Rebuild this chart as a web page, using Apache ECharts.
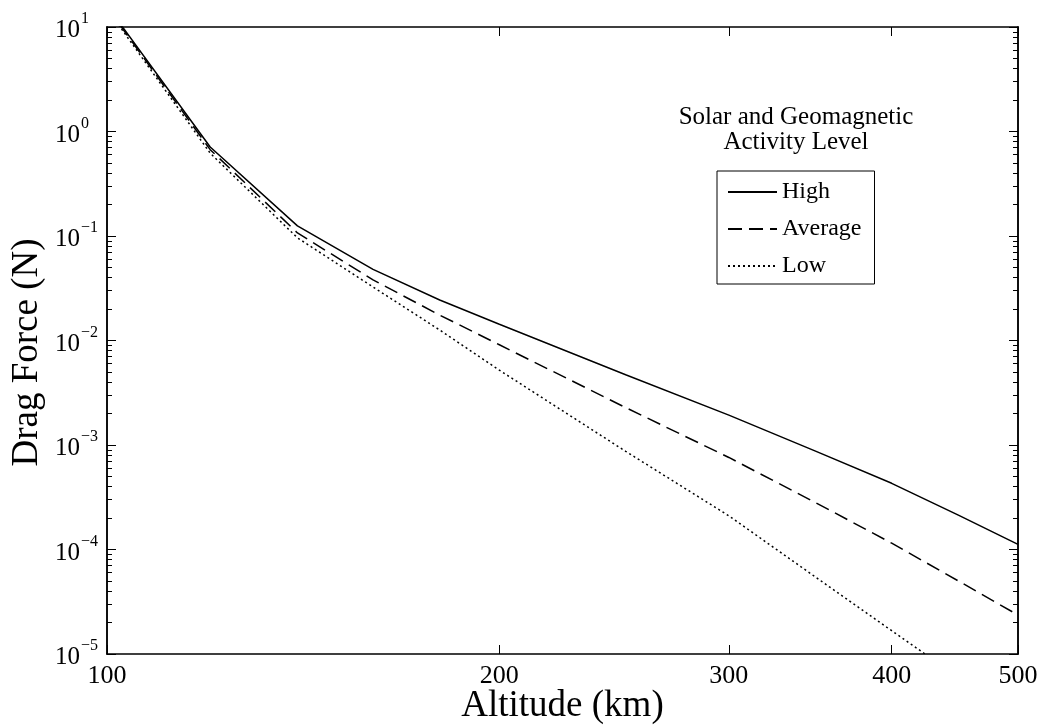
<!DOCTYPE html>
<html>
<head>
<meta charset="utf-8">
<script src="https://cdn.jsdelivr.net/npm/echarts@6/dist/echarts.min.js"></script>
<style>
    html, body {margin: 0; padding: 0; background: #fff;}
    #chart {width: 1044px; height: 725px;}
</style>
</head>
<body>
<div id="chart"></div>
<script>
// altitude (km) of each sample
const altitudes = [100, 120, 140, 160, 180, 200, 250, 300, 350, 400, 450, 500];
// drag force (N) for each activity level
const highForce = [16, 0.71, 0.125, 0.048, 0.0244, 0.0143, 0.0047, 0.00193, 0.00087, 0.00043, 0.000213, 0.000112];
const averageForce = [15.5, 0.67, 0.107, 0.038, 0.0175, 0.0091, 0.00228, 0.00076, 0.000279, 0.000115, 0.00005, 0.0000236];
const lowForce = [15, 0.62, 0.096, 0.0325, 0.0126, 0.0052, 0.00087, 0.00021, 0.000054, 0.0000167, 0.000006, 0.00000235];
const seriesNames = ['High', 'Average', 'Low'];
const xTicks = [100, 200, 300, 400, 500];
const yTicks = [1e-5, 1e-4, 1e-3, 1e-2, 1e-1, 1, 10];

const font = 'Liberation Serif';
const lineTypes = ['solid', [14, 7], [2, 3]];

// minor ticks 2..9 inside every decade
let yMinor = [];
for (let i = 0; i < yTicks.length - 1; i++) {
    for (let k = 2; k < 10; k++) yMinor.push(+(yTicks[i] * k).toPrecision(3));
}

function xAxisOf(position, showLabel) {
    return {
        type: 'log', logBase: 10, position: position, min: 100, max: 500,
        name: showLabel ? 'Altitude (km)' : '',
        nameLocation: 'middle', nameGap: 34, nameMoveOverlap: false,
        nameTextStyle: {fontFamily: font, fontSize: 37, color: '#000'},
        axisLine: {show: true, lineStyle: {color: '#000', width: 1.5}},
        axisTick: {show: true, inside: true, length: 9, customValues: xTicks, lineStyle: {color: '#000', width: 1}},
        axisLabel: {
            show: showLabel, customValues: xTicks, margin: 9,
            fontFamily: font, fontSize: 26, color: '#000',
            formatter: v => String(Math.round(v))
        },
        splitLine: {show: false}
    };
}

function yAxisOf(position, values, len, showLabel) {
    return {
        type: 'log', logBase: 10, position: position, min: 1e-5, max: 10,
        name: showLabel ? 'Drag Force (N)' : '',
        nameLocation: 'middle', nameGap: 61, nameMoveOverlap: false,
        nameTextStyle: {fontFamily: font, fontSize: 37, color: '#000', padding: [0, 24, 0, 0]},
        axisLine: {show: true, lineStyle: {color: '#000', width: 1.5}},
        axisTick: {show: true, inside: true, length: len, customValues: values, lineStyle: {color: '#000', width: 1}},
        axisLabel: {
            show: showLabel, customValues: values, margin: 52, align: 'left',
            formatter: v => '{b|10}{s|' + String(Math.round(Math.log10(v))).replace('-', '\u2212') + '}',
            rich: {
                b: {fontFamily: font, fontSize: 25, color: '#000', verticalAlign: 'bottom', lineHeight: 32},
                s: {fontFamily: font, fontSize: 16, color: '#000', verticalAlign: 'top', lineHeight: 24, padding: [0, 0, 0, 1]}
            }
        },
        splitLine: {show: false}
    };
}

let chart = echarts.init(document.getElementById('chart'));
chart.setOption({
    animation: false,
    backgroundColor: '#fff',
    grid: {left: 107, right: 26, top: 27, bottom: 71, outerBoundsMode: 'none', containLabel: false},
    xAxis: [xAxisOf('bottom', true), xAxisOf('top', false)],
    yAxis: [
        yAxisOf('left', yTicks, 9, true),
        yAxisOf('left', yMinor, 5, false),
        yAxisOf('right', yTicks, 9, false),
        yAxisOf('right', yMinor, 5, false)
    ],
    legend: {
        data: seriesNames,
        orient: 'vertical',
        left: 717, top: 171,
        itemWidth: 49, itemHeight: 14, itemGap: 13,
        padding: [9, 13, 6, 10],
        borderColor: '#000', borderWidth: 1, borderRadius: 0,
        backgroundColor: '#fff',
        itemStyle: {opacity: 0},
        textStyle: {fontFamily: font, fontSize: 24, color: '#000'}
    },
    graphic: [{
        type: 'text', x: 796, y: 105,
        style: {
            text: 'Solar and Geomagnetic\nActivity Level',
            align: 'center', verticalAlign: 'top',
            font: '25px "Liberation Serif"', lineHeight: 25, fill: '#000'
        }
    }],
    series: [highForce, averageForce, lowForce].map((vals, i) => ({
        name: seriesNames[i],
        type: 'line',
        symbol: 'none',
        clip: true,
        data: altitudes.map((a, j) => [a, vals[j]]),
        itemStyle: {color: '#000'},
        lineStyle: {color: '#000', width: 1.5, type: lineTypes[i]}
    }))
});
</script>
</body>
</html>
